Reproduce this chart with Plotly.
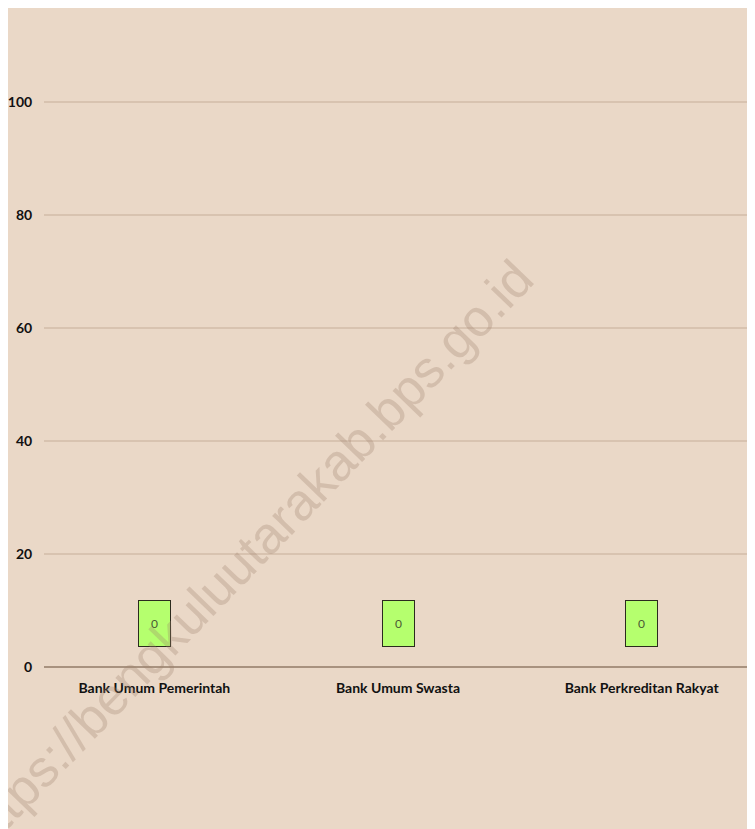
import plotly.graph_objects as go

categories = ["Bank Umum Pemerintah", "Bank Umum Swasta", "Bank Perkreditan Rakyat"]
values = [0, 0, 0]
y_ticks = [0, 20, 40, 60, 80, 100]
watermark = "https://bengkuluutarakab.bps.go.id"

BG = "#ead8c7"
FONT = "Lato, Roboto, sans-serif"

fig = go.Figure()
fig.add_trace(go.Bar(x=categories, y=values, marker_color="#b5ff6e", marker_line_width=0,
                     showlegend=False, hoverinfo="x+y"))

for c, v in zip(categories, values):
    fig.add_annotation(x=c, y=v, xref="x", yref="y", yanchor="bottom", yshift=20,
                       text=str(v), showarrow=False, width=31, height=45,
                       bgcolor="#b5ff6e", bordercolor="#2b2b1e", borderwidth=1, borderpad=0,
                       font=dict(family=FONT, size=12, color="#4b5a35"))

fig.add_annotation(x=0.283, y=0.180, xref="paper", yref="paper", text=watermark,
                   xanchor="center", yanchor="middle",
                   showarrow=False, textangle=-46,
                   font=dict(family="Liberation Sans, Arial, sans-serif", size=52,
                             color="rgba(160,130,110,0.3)"))

fig.update_layout(
    width=755, height=829,
    paper_bgcolor=BG, plot_bgcolor=BG,
    margin=dict(l=32, r=0, t=37.5, b=170),
    bargap=0.85,
    font=dict(family=FONT, size=14, color="#111111"),
    xaxis=dict(range=[-0.453, 2.498], showgrid=False, zeroline=False, showline=False,
               ticks="outside", ticklen=8, tickcolor="rgba(0,0,0,0)",
               tickfont=dict(family=FONT, size=14, color="#111111", weight="bold")),
    yaxis=dict(range=[0, 110], tickvals=y_ticks, showgrid=True, gridcolor="#d8c3b0", gridwidth=1.5,
               zeroline=True, zerolinecolor="#a8927f", zerolinewidth=1.5, showline=False,
               layer="above traces",
               ticks="outside", ticklen=8, tickcolor="rgba(0,0,0,0)",
               tickfont=dict(family=FONT, size=14, color="#111111", weight="bold")),
)

fig.write_html("out.html")
